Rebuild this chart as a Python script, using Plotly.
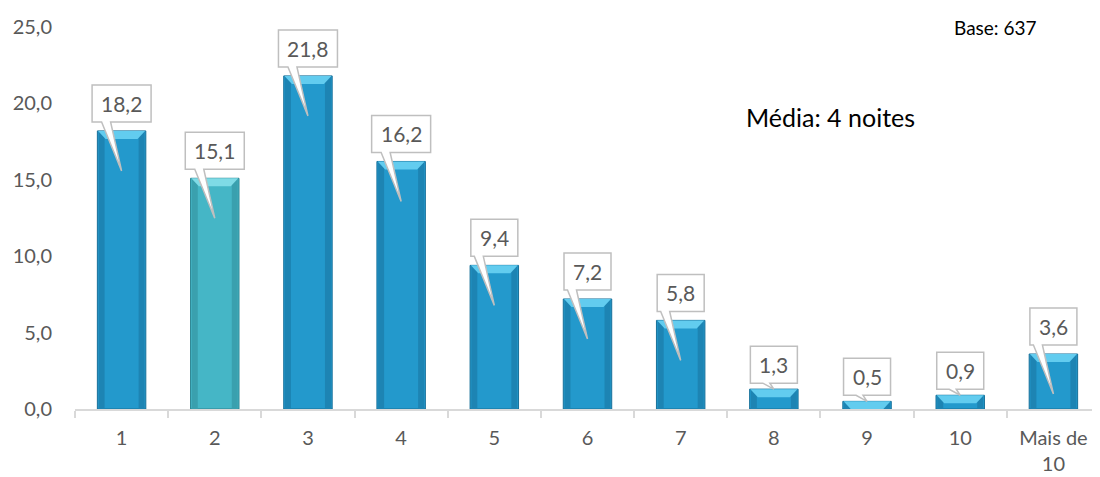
import plotly.graph_objects as go

categories = ["1", "2", "3", "4", "5", "6", "7", "8", "9", "10", "Mais de<br>10"]
values = [18.2, 15.1, 21.8, 16.2, 9.4, 7.2, 5.8, 1.3, 0.5, 0.9, 3.6]
labels = ["18,2", "15,1", "21,8", "16,2", "9,4", "7,2", "5,8", "1,3", "0,5", "0,9", "3,6"]
highlight = "2"

BLUE, BLUE_TOP, BLUE_SIDE, BLUE_EDGE = "#2399cc", "#62ccef", "#1d84b3", "#17709a"
TEAL, TEAL_TOP, TEAL_SIDE, TEAL_EDGE = "#45b6c6", "#7fdbe6", "#3aa0ae", "#2c8592"
FONT = "Lato"

colors = [TEAL if c == highlight else BLUE for c in categories]
edges = [TEAL_EDGE if c == highlight else BLUE_EDGE for c in categories]

fig = go.Figure(go.Bar(
    x=categories, y=values, width=0.52,
    marker=dict(color=colors, line=dict(color=edges, width=1)),
    hoverinfo="skip",
))

shapes = []
annotations = []
for i, (c, v, lab) in enumerate(zip(categories, values, labels)):
    hl = c == highlight
    top = TEAL_TOP if hl else BLUE_TOP
    side = TEAL_SIDE if hl else BLUE_SIDE
    # side shading
    for x0, x1 in ((-23, -17), (17, 23)):
        shapes.append(dict(
            type="rect", xref="x", yref="y", xsizemode="pixel", xanchor=i,
            x0=x0, x1=x1, y0=0, y1=v, layer="above",
            fillcolor=side, line=dict(width=0),
        ))
    # top bevel
    shapes.append(dict(
        type="path", xref="x", yref="y", xsizemode="pixel", ysizemode="pixel",
        xanchor=i, yanchor=v, layer="above",
        path="M -23.5,0 L 23.5,0 L 16,-8 L -16,-8 Z",
        fillcolor=top, line=dict(width=0),
    ))
    # callout
    hw = 29.5 if len(lab) >= 4 else 23.5
    big = v >= 3
    if big:
        b, h, wl, wr, tip = 9, 37, -20, -11, -40
    else:
        b, h, wl, wr, tip = 6, 37, -11, -4, 0
    path = (f"M {-hw},{b} L {-hw},{b + h} L {hw},{b + h} L {hw},{b} "
            f"L {wr},{b} L 0,{tip} L {wl},{b} Z")
    shapes.append(dict(
        type="path", xref="x", yref="y", xsizemode="pixel", ysizemode="pixel",
        xanchor=i, yanchor=v, layer="above", path=path,
        fillcolor="white", line=dict(color="#bfbfbf", width=1.5),
    ))
    annotations.append(dict(
        x=i, y=v, xref="x", yref="y", text=lab, showarrow=False,
        yanchor="middle", yshift=b + h / 2,
        font=dict(family=FONT, size=21, color="#595959"),
    ))

# page offsets (browser body margin is 8px)
OFF = 8
W, H = 1100 - OFF, 477 - OFF
L, R, T, B = 75 - OFF, 0, 27 - OFF, 68
pw, ph = W - L - R, H - T - B


def to_paper(px, py):
    return (px - OFF - L) / pw, 1 - (py - OFF - T) / ph


mx, my = to_paper(830, 117)
annotations.append(dict(
    x=mx, y=my, xref="paper", yref="paper", text="Média: 4 noites", showarrow=False,
    xanchor="center", yanchor="middle",
    font=dict(family=FONT, size=25, color="#000000"),
))
bx, by = to_paper(995, 27)
annotations.append(dict(
    x=bx, y=by, xref="paper", yref="paper", text="Base: 637", showarrow=False,
    xanchor="center", yanchor="middle",
    font=dict(family=FONT, size=19, color="#000000"),
))

fig.update_layout(
    width=W, height=H,
    margin=dict(l=L, r=R, t=T, b=B, autoexpand=False),
    plot_bgcolor="white", paper_bgcolor="white",
    separators=",.",
    showlegend=False,
    shapes=shapes, annotations=annotations,
    font=dict(family=FONT, size=20, color="#595959"),
    bargap=0.48,
)
fig.update_xaxes(
    type="category", showgrid=False, showline=True, linecolor="#d9d9d9", linewidth=1.5,
    ticks="outside", tickson="boundaries", ticklen=7, tickcolor="#d9d9d9", tickwidth=1.5,
    tickfont=dict(family=FONT, size=20, color="#595959"), ticklabelstandoff=10,
    fixedrange=True, automargin=False,
)
fig.update_yaxes(
    range=[0, 25], dtick=5, tickformat=".1f", showgrid=False, zeroline=False,
    showline=False, ticks="", ticklabelstandoff=22,
    tickfont=dict(family=FONT, size=20, color="#595959"), fixedrange=True, automargin=False,
)

fig.write_html("out.html")
